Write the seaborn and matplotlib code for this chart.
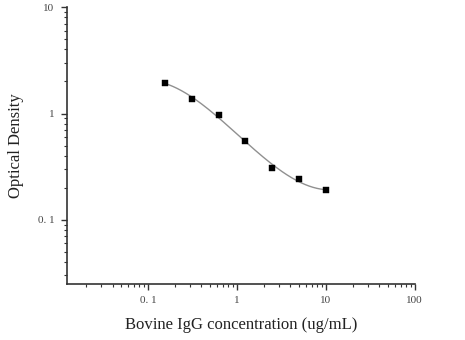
import numpy as np
import pandas as pd
import matplotlib
matplotlib.use("Agg")
import matplotlib.pyplot as plt
import seaborn as sns
from matplotlib.ticker import LogLocator, FixedFormatter, FixedLocator, NullFormatter

concentration = [0.156, 0.3125, 0.625, 1.25, 2.5, 5.0, 10.0]
optical_density = [1.94, 1.36, 0.96, 0.55, 0.31, 0.24, 0.19]
x_tick_values = [0.1, 1, 10, 100]
x_tick_labels = ["0. 1", "1", "10", "100"]
y_tick_values = [0.1, 1, 10]
y_tick_labels = ["0. 1", "1", "10"]

sns.set_theme(style="ticks")
plt.rcParams['font.family'] = ['Liberation Serif', 'DejaVu Serif']

df = pd.DataFrame({"conc": concentration, "od": optical_density})

# smooth fitted curve (cubic fit in log-log space)
lx = np.log10(df["conc"].values)
ly = np.log10(df["od"].values)
coef = np.polyfit(lx, ly, 3)
xs = np.linspace(lx.min(), lx.max(), 200)
fit = pd.DataFrame({"conc": 10 ** xs, "od": 10 ** np.polyval(coef, xs)})

fig = plt.figure(figsize=(4.65, 3.4), dpi=100)
ax = fig.add_axes([0.144, 0.165, 0.748, 0.814])

sns.lineplot(data=fit, x="conc", y="od", ax=ax, color="#909090", linewidth=1.0)
sns.scatterplot(data=df, x="conc", y="od", ax=ax, marker="s", s=22, color="black",
                edgecolor="black", linewidth=0.3, zorder=3)

ax.set_xscale("log")
ax.set_yscale("log")
ax.set_xlim(0.0123, 100)
ax.set_ylim(0.025, 10)

ax.xaxis.set_major_locator(FixedLocator(x_tick_values))
ax.xaxis.set_major_formatter(FixedFormatter(x_tick_labels))
ax.yaxis.set_major_locator(FixedLocator(y_tick_values))
ax.yaxis.set_major_formatter(FixedFormatter(y_tick_labels))
ax.xaxis.set_minor_locator(LogLocator(base=10, subs=np.arange(2, 10)))
ax.yaxis.set_minor_locator(LogLocator(base=10, subs=np.arange(2, 10)))
ax.xaxis.set_minor_formatter(NullFormatter())
ax.yaxis.set_minor_formatter(NullFormatter())

ax.tick_params(which="major", length=4, width=1.0, color="#333333", labelsize=8, labelcolor="#444444", pad=5)
ax.tick_params(which="minor", length=2, width=0.8, color="#333333")

for s in ["top", "right"]:
    ax.spines[s].set_visible(False)
for s in ["left", "bottom"]:
    ax.spines[s].set_linewidth(1.2)
    ax.spines[s].set_color("#333333")

ax.set_xlabel("Bovine IgG concentration (ug/mL)", fontsize=12, color="#222222", labelpad=8)
ax.set_ylabel("Optical Density", fontsize=12, color="#222222", labelpad=10)

fig.savefig("out.png", dpi=100)
